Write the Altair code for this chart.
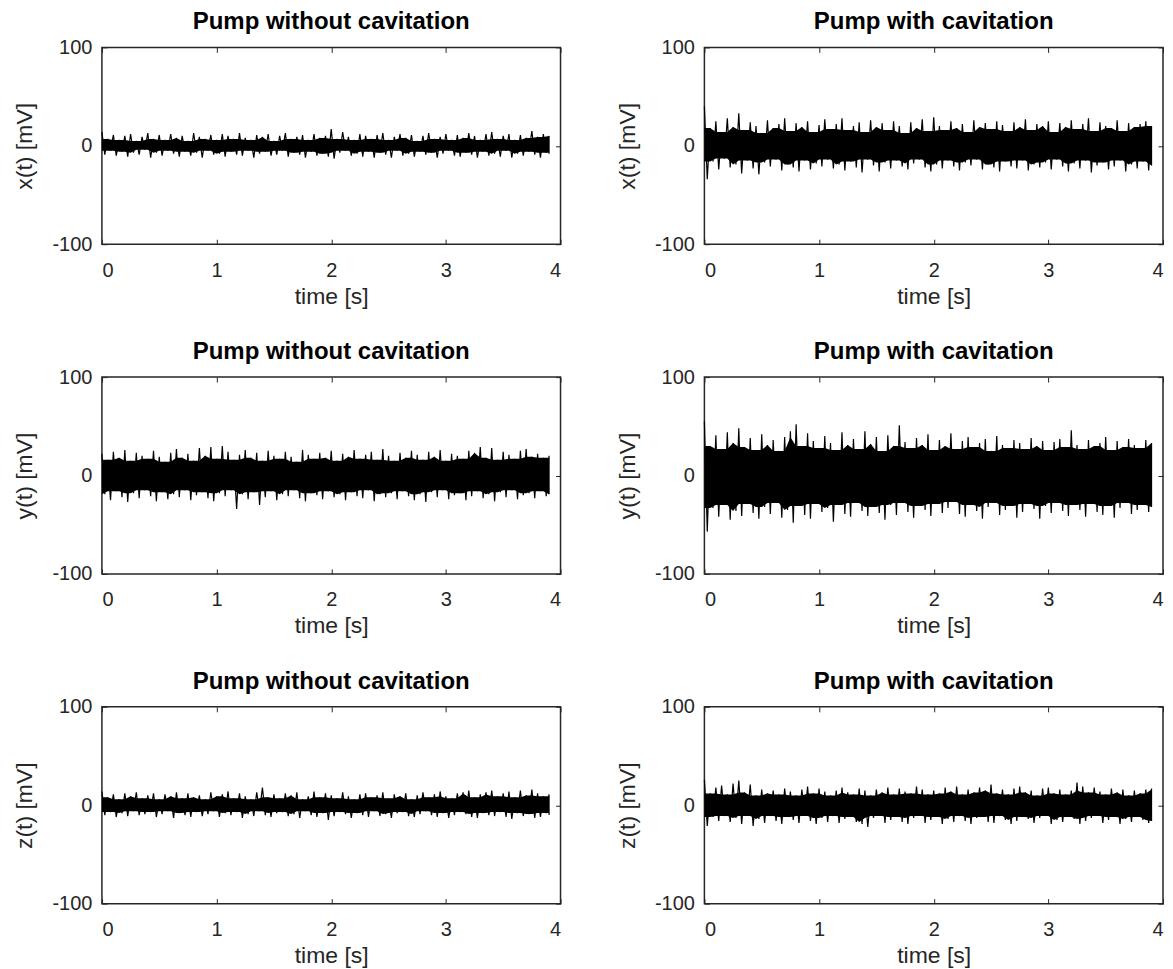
import altair as alt
import numpy as np
import pandas as pd

# Envelope (upper / lower extremes) of each recorded signal, read from the picture,
# sampled every 0.05 s from 0 to 3.9 s  [mV]
X_NO_CAV_HI = [14,7,11,6,10,12,5,9,13,7,11,6,12,8,10,5,13,9,7,11,6,12,10,7,13,8,6,11,9,12,5,10,13,7,9,11,6,12,8,10,17,7,14,9,6,12,10,7,11,13,6,9,12,8,11,5,10,13,7,9,12,6,11,8,13,10,6,12,14,7,10,12,6,11,8,15,9,12,10]
X_NO_CAV_LO = [-9,-5,-10,-6,-11,-7,-9,-4,-12,-7,-10,-5,-8,-11,-6,-10,-7,-12,-5,-9,-8,-11,-6,-9,-10,-5,-12,-8,-6,-10,-9,-5,-11,-7,-9,-12,-6,-10,-8,-11,-13,-7,-5,-10,-8,-11,-6,-12,-7,-9,-12,-5,-10,-8,-11,-6,-9,-7,-12,-8,-5,-10,-11,-7,-9,-12,-6,-10,-8,-11,-5,-12,-8,-10,-6,-9,-12,-7,-8]
X_CAV_HI = [40,18,25,14,28,19,33,16,24,20,13,26,18,22,28,15,23,19,25,14,21,27,17,22,28,16,20,24,14,26,19,23,16,25,20,13,24,18,27,15,29,20,16,25,18,22,14,26,19,23,17,25,21,15,24,19,27,16,22,20,25,14,23,19,26,17,22,28,15,24,20,18,26,15,23,19,22,25,20]
X_CAV_LO = [-34,-16,-24,-13,-22,-19,-28,-15,-23,-29,-17,-21,-14,-25,-19,-22,-26,-15,-24,-18,-21,-14,-23,-19,-25,-16,-22,-27,-14,-20,-26,-17,-23,-15,-21,-24,-18,-14,-22,-26,-19,-23,-15,-21,-25,-17,-20,-14,-24,-19,-22,-26,-16,-21,-23,-15,-25,-19,-22,-17,-24,-14,-21,-26,-18,-23,-15,-27,-20,-17,-24,-21,-15,-26,-19,-23,-16,-25,-20]
Y_NO_CAV_HI = [22,16,24,18,26,15,23,20,17,25,19,14,23,27,18,22,15,28,20,29,17,30,24,16,21,26,18,23,15,25,20,17,24,19,14,26,21,17,23,18,25,15,22,19,26,17,21,24,16,27,20,15,23,18,25,21,16,24,19,26,15,22,20,17,25,23,29,18,28,16,24,21,17,25,27,19,22,18,20]
Y_NO_CAV_LO = [-19,-25,-16,-22,-27,-18,-23,-15,-21,-26,-17,-24,-19,-22,-15,-25,-20,-17,-23,-26,-18,-21,-15,-34,-19,-24,-17,-30,-22,-16,-25,-19,-21,-15,-23,-26,-18,-20,-24,-16,-22,-19,-25,-17,-21,-23,-15,-26,-19,-22,-18,-24,-16,-21,-25,-19,-27,-17,-22,-15,-24,-20,-18,-25,-21,-16,-23,-19,-26,-17,-22,-15,-24,-20,-18,-23,-16,-21,-19]
Y_CAV_HI = [55,30,41,27,44,33,48,29,38,26,42,31,36,25,39,45,52,30,43,35,28,40,33,26,44,31,37,27,45,32,39,25,41,30,51,34,28,38,31,42,26,36,30,43,27,35,39,29,33,37,25,40,31,28,36,33,27,38,30,35,26,34,37,29,46,31,27,36,30,33,39,26,35,29,37,31,28,36,33]
Y_CAV_LO = [-57,-33,-42,-30,-45,-36,-41,-29,-38,-44,-32,-39,-28,-43,-35,-48,-31,-40,-44,-29,-37,-33,-47,-30,-39,-42,-28,-36,-41,-32,-38,-45,-30,-40,-28,-37,-43,-31,-35,-41,-29,-38,-33,-27,-39,-42,-30,-36,-44,-32,-28,-40,-35,-31,-43,-37,-29,-34,-44,-31,-38,-28,-36,-41,-30,-35,-42,-29,-37,-40,-31,-43,-33,-28,-39,-35,-30,-37,-32]
Z_NO_CAV_HI = [14,8,11,6,12,9,13,7,10,12,6,11,9,13,7,12,8,10,6,13,9,11,14,7,12,9,6,13,18,8,11,7,12,10,13,6,9,14,8,12,10,7,13,9,6,11,12,8,10,13,7,11,9,12,6,10,13,8,11,14,9,7,12,13,15,8,11,13,15,9,12,14,8,15,10,16,12,9,11]
Z_NO_CAV_LO = [-10,-7,-12,-8,-11,-6,-10,-9,-7,-12,-9,-6,-13,-8,-10,-12,-7,-11,-9,-6,-12,-8,-10,-7,-13,-9,-11,-6,-10,-12,-8,-7,-11,-9,-13,-6,-10,-12,-8,-15,-11,-7,-9,-13,-8,-10,-12,-6,-11,-9,-13,-8,-7,-11,-12,-9,-6,-10,-12,-8,-13,-10,-7,-9,-12,-13,-8,-10,-11,-7,-12,-14,-8,-11,-9,-13,-12,-8,-10]
Z_CAV_HI = [26,12,18,20,11,22,25,13,21,10,16,12,15,11,17,14,10,16,19,12,17,14,10,15,18,13,11,17,15,10,16,13,18,11,17,14,12,19,16,11,15,12,18,14,19,11,16,13,18,15,21,12,16,11,17,19,13,15,10,17,18,12,16,11,15,23,19,13,18,14,11,17,13,16,10,15,12,16,17]
Z_CAV_LO = [-21,-12,-16,-11,-17,-13,-19,-11,-21,-14,-18,-11,-16,-19,-12,-15,-18,-11,-16,-19,-13,-17,-11,-18,-14,-12,-17,-19,-22,-13,-11,-18,-15,-12,-17,-19,-13,-11,-18,-15,-12,-19,-14,-17,-11,-16,-19,-13,-12,-17,-18,-11,-15,-19,-16,-12,-14,-18,-13,-11,-19,-15,-17,-12,-14,-19,-16,-13,-11,-18,-15,-12,-19,-14,-17,-12,-15,-18,-16]

TITLES = ["Pump without cavitation", "Pump with cavitation"]
Y_LABELS = ["x(t) [mV]", "y(t) [mV]", "z(t) [mV]"]
X_LABEL = "time [s]"
X_TICKS = [0, 1, 2, 3, 4]
Y_TICKS = [-100, 0, 100]
T_END = 3.9

FONT = "Liberation Sans"
AX = "#262626"
W, H = 459, 197
TICK = 5


def panel(hi, lo, title, ylab):
    n = min(len(hi), len(lo))
    t = np.linspace(0, T_END, n)
    half = T_END / (n - 1) / 2
    df = pd.DataFrame({"t": t, "hi": hi[:n], "lo": lo[:n]})
    # solid core of the trace: the smallest excursion among neighbouring samples
    df["core_hi"] = df["hi"].rolling(3, center=True, min_periods=1).min()
    df["core_lo"] = df["lo"].rolling(3, center=True, min_periods=1).max()
    # the trace swinging between its extremes: max, then min half a step later
    zz = pd.DataFrame({
        "t": np.concatenate([t, np.minimum(t + half, T_END)]),
        "v": np.concatenate([df["hi"].values, df["lo"].values]),
        "k": np.concatenate([np.arange(n) * 2, np.arange(n) * 2 + 1]),
    })
    xs = alt.Scale(domain=[0, 4], nice=False, zero=False)
    ys = alt.Scale(domain=[-100, 100], nice=False)
    base = alt.Chart(df)
    core = base.mark_area(color="black", opacity=1, interpolate="linear").encode(
        x=alt.X("t:Q", scale=xs, axis=alt.Axis(
            values=X_TICKS, labelExpr="toString(datum.value)", title=X_LABEL, orient="bottom",
            domain=False, grid=False, offset=-TICK, tickSize=TICK, tickColor=AX,
            tickWidth=1, labelPadding=16, labelFontSize=20, labelColor=AX,
            labelFont=FONT, titleFont=FONT, titleFontSize=23, titleColor=AX,
            titleFontWeight="normal", titlePadding=5)),
        y=alt.Y("core_hi:Q", scale=ys, axis=alt.Axis(
            values=Y_TICKS, labelExpr="toString(datum.value)", title=ylab, orient="left",
            domain=False, grid=False, offset=-TICK, tickSize=TICK, tickColor=AX,
            tickWidth=1, labelPadding=10, labelFontSize=20, labelColor=AX,
            labelFont=FONT, titleFont=FONT, titleFontSize=23, titleColor=AX,
            titleFontWeight="normal", titlePadding=15)),
        y2="core_lo:Q",
    )
    trace = alt.Chart(zz).mark_line(color="black", strokeWidth=1.2, interpolate="linear").encode(
        x=alt.X("t:Q", scale=xs),
        y=alt.Y("v:Q", scale=ys),
        order="k:Q",
    )
    box_ticks = base.mark_line(opacity=0).encode(
        x=alt.X("t:Q", scale=xs, axis=alt.Axis(
            values=X_TICKS, title="", orient="top", labels=False, domain=False,
            grid=False, offset=-TICK, tickSize=TICK, tickColor=AX, tickWidth=1)),
        y=alt.Y("hi:Q", scale=ys, axis=alt.Axis(
            values=Y_TICKS, title="", orient="right", labels=False, domain=False,
            grid=False, offset=-TICK, tickSize=TICK, tickColor=AX, tickWidth=1)),
    )
    main = alt.layer(core, trace)
    return alt.layer(main, box_ticks).resolve_axis(x="independent", y="independent").properties(
        width=W, height=H,
        title=alt.TitleParams(title, font=FONT, fontSize=24, fontWeight="bold",
                              color="black", offset=3, anchor="middle"),
    )


panels = [
    panel(X_NO_CAV_HI, X_NO_CAV_LO, TITLES[0], Y_LABELS[0]),
    panel(X_CAV_HI, X_CAV_LO, TITLES[1], Y_LABELS[0]),
    panel(Y_NO_CAV_HI, Y_NO_CAV_LO, TITLES[0], Y_LABELS[1]),
    panel(Y_CAV_HI, Y_CAV_LO, TITLES[1], Y_LABELS[1]),
    panel(Z_NO_CAV_HI, Z_NO_CAV_LO, TITLES[0], Y_LABELS[2]),
    panel(Z_CAV_HI, Z_CAV_LO, TITLES[1], Y_LABELS[2]),
]

chart = alt.concat(*panels, columns=2).properties(
    spacing=alt.RowColnumber(row=133, column=144),
    bounds="flush",
    padding={"left": 5, "top": 1, "right": 0, "bottom": 0},
    background="white",
).configure_view(stroke=AX, strokeWidth=1.5)

chart.save("out.html", embed_options={"renderer": "svg", "actions": False})
